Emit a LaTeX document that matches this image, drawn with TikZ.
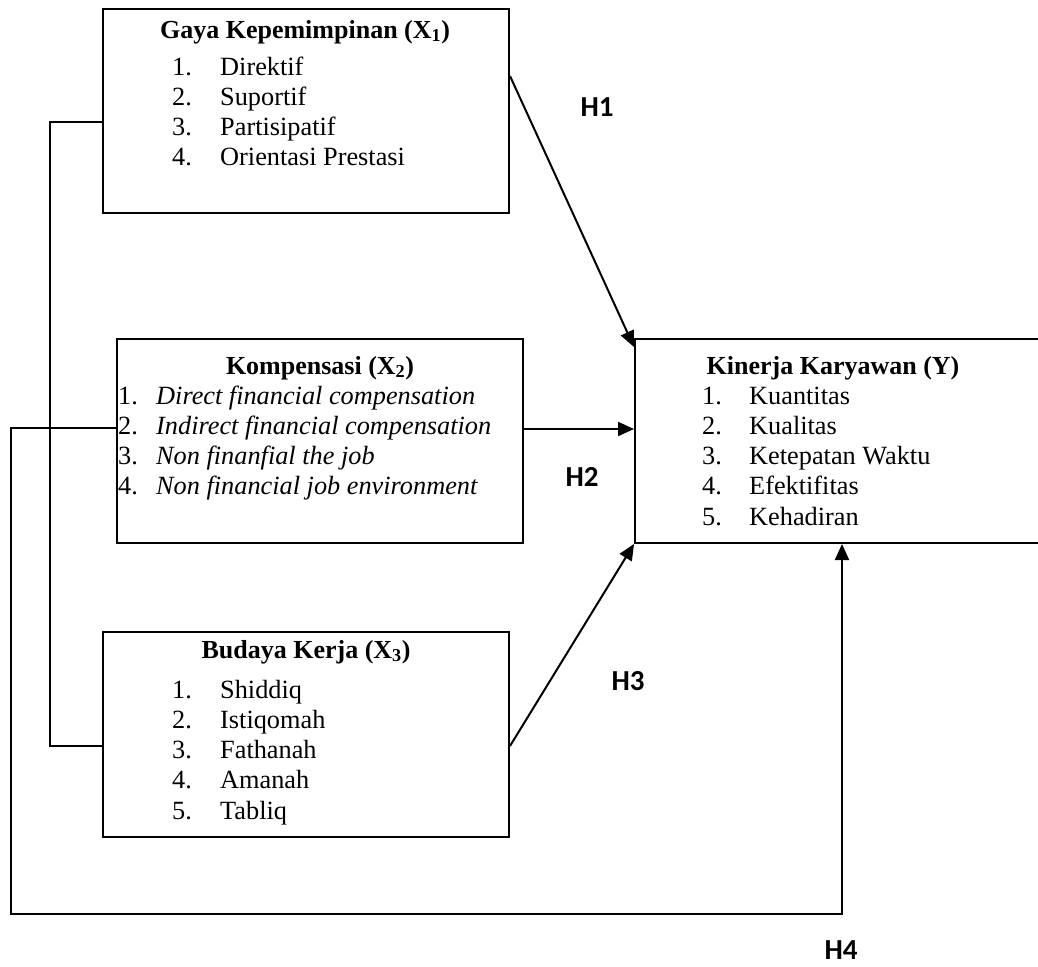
\documentclass[tikz,border=0pt]{standalone}
\usepackage{fontspec}
\setmainfont{Liberation Serif}
\newfontfamily\calib{Carlito}
\usetikzlibrary{arrows.meta,calc}
\begin{document}
\begin{tikzpicture}[x=1pt,y=-1pt,
  box/.style={draw,line width=2pt,rectangle,inner sep=0pt},
  ttl/.style={inner sep=0pt,anchor=base,font=\fontsize{26}{30}\selectfont\bfseries},
  lst/.style={inner sep=0pt,anchor=base west,font=\fontsize{26.3}{30.3}\selectfont},
  hyp/.style={inner sep=0pt,font=\fontsize{29}{32}\selectfont\calib\bfseries},
  conn/.style={line width=2pt},
  arr/.style={line width=2pt,-{Triangle[length=16pt,width=14pt]}}]
\useasboundingbox (0,0) rectangle (1038,966);
\clip (0,0) rectangle (1038,966);
% boxes
\node[box,minimum width=406pt,minimum height=204pt] (x1) at (306,111) {};
\node[box,minimum width=406pt,minimum height=204pt] (x2) at (320,441) {};
\node[box,minimum width=406pt,minimum height=205pt] (x3) at (306,734.5) {};
\node[box,minimum width=425pt,minimum height=204pt] (y) at (847.5,441) {};
% texts X1
\node[ttl] (x1t) at (305,38) {Gaya Kepemimpinan (X\textsubscript{1})};
\node[lst] (x1l) at (172,75) {\begin{tabular}[t]{@{}p{48pt}@{}l@{}}
1. & Direktif\\ 2. & Suportif\\ 3. & Partisipatif\\ 4. & Orientasi Prestasi\end{tabular}};
% texts X2
\node[ttl] (x2t) at (320,374) {Kompensasi (X\textsubscript{2})};
\node[lst] (x2l) at (118,404) {\begin{tabular}[t]{@{}p{38pt}@{}l@{}}
1. & \textit{Direct financial compensation}\\ 2. & \textit{Indirect financial compensation}\\ 3. & \textit{Non finanfial the job}\\ 4. & \textit{Non financial job environment}\end{tabular}};
% texts X3
\node[ttl] (x3t) at (306,658) {Budaya Kerja (X\textsubscript{3})};
\node[lst] (x3l) at (172,698) {\begin{tabular}[t]{@{}p{48pt}@{}l@{}}
1. & Shiddiq\\ 2. & Istiqomah\\ 3. & Fathanah\\ 4. & Amanah\\ 5. & Tabliq\end{tabular}};
% texts Y
\node[ttl] (yt) at (833,374) {Kinerja Karyawan (Y)};
\node[lst] (yl) at (702,404) {\begin{tabular}[t]{@{}p{47pt}@{}l@{}}
1. & Kuantitas\\ 2. & Kualitas\\ 3. & Ketepatan Waktu\\ 4. & Efektifitas\\ 5. & Kehadiran\end{tabular}};
% hypothesis labels
\node[hyp] (h1) at (597,107) {H1};
\node[hyp] (h2) at (582,477) {H2};
\node[hyp] (h3) at (628,681) {H3};
\node[hyp] (h4) at (841,950) {H4};
% connector coordinates
\coordinate (x1a) at ($(x1.north east)+(0,68)$);
\coordinate (ya) at ($(y.north west)+(0,9)$);
\coordinate (x2a) at ($(x2.north east)+(0,91)$);
\coordinate (x3a) at ($(x3.north east)+(0,115)$);
\coordinate (x1l0) at ($(x1.north west)+(0,114)$);
\coordinate (x3l0) at ($(x3.north west)+(0,115)$);
\coordinate (x2l0) at ($(x2.north west)+(0,90)$);
\coordinate (yb) at ($(y.south west)+(208,0)$);
% connectors
\draw[arr] (x1a) -- (ya);
\draw[arr] (x2a) -- (x2a -| y.west);
\draw[arr] (x3a) -- (y.south west);
\draw[conn] (x1l0) -- ++(-52,0) |- (x3l0);
\draw[arr] (x2l0) -- ++(-105,0) -- ++(0,486) -| (yb);
\end{tikzpicture}
\end{document}
